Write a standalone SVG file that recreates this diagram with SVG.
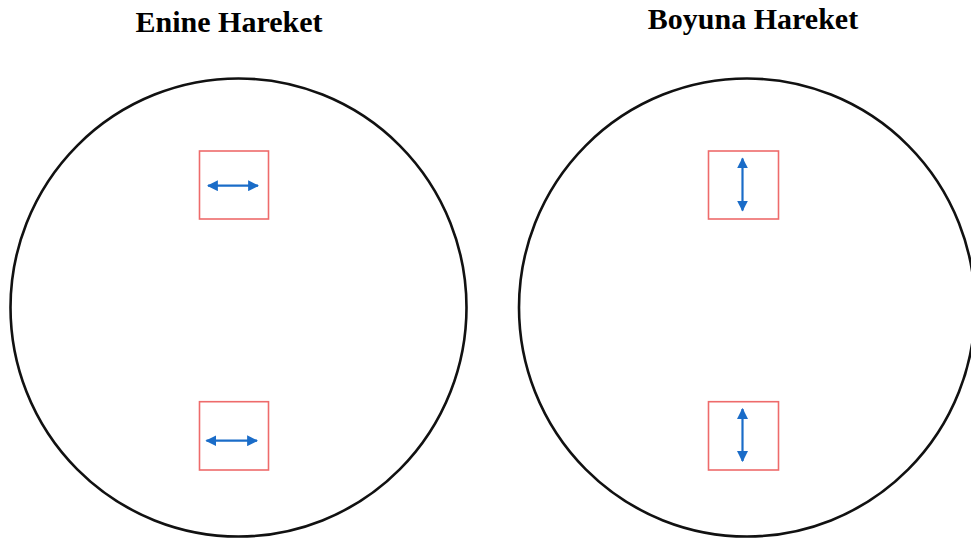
<svg xmlns="http://www.w3.org/2000/svg" width="971" height="538" viewBox="0 0 971 538">
  <style>
    .title { font-family: "Liberation Serif", "Times New Roman", serif; font-weight: bold; font-size: 30px; fill: #000; text-anchor: middle; }
    .disc { fill: none; stroke: #111; stroke-width: 2.6; }
    .probe { fill: #fff; stroke: #ee6b6b; stroke-width: 1.6; }
    .motion { stroke: #1a6cc8; stroke-width: 2.2; fill: none; marker-start: url(#tip); marker-end: url(#tip); }
  </style>
  <defs>
    <marker id="tip" viewBox="0 0 10 10" refX="9" refY="5" markerWidth="5" markerHeight="5" orient="auto-start-reverse" markerUnits="strokeWidth">
      <path d="M0,0 L10,5 L0,10 Z" fill="#1a6cc8"/>
    </marker>
  </defs>

  <rect width="971" height="538" fill="#fff"/>

  <!-- Transverse motion panel -->
  <g id="enine">
    <text class="title" x="229" y="31.5">Enine Hareket</text>
    <ellipse class="disc" cx="238.5" cy="307.5" rx="228" ry="229"/>
    <g id="enine-ust">
      <rect class="probe" x="199.5" y="151" width="69" height="68"/>
      <line class="motion" x1="208" y1="185.7" x2="258" y2="185.7"/>
    </g>
    <g id="enine-alt">
      <rect class="probe" x="199.5" y="401.7" width="69" height="68.3"/>
      <line class="motion" x1="206.5" y1="440.7" x2="257" y2="440.7"/>
    </g>
  </g>

  <!-- Longitudinal motion panel -->
  <g id="boyuna">
    <text class="title" x="753" y="29">Boyuna Hareket</text>
    <ellipse class="disc" cx="747" cy="307.5" rx="228" ry="229"/>
    <g id="boyuna-ust">
      <rect class="probe" x="708.5" y="151" width="70" height="68"/>
      <line class="motion" x1="742.5" y1="158.5" x2="742.5" y2="210.5"/>
    </g>
    <g id="boyuna-alt">
      <rect class="probe" x="708.5" y="401.7" width="70" height="68.3"/>
      <line class="motion" x1="742.5" y1="409" x2="742.5" y2="461"/>
    </g>
  </g>
</svg>
